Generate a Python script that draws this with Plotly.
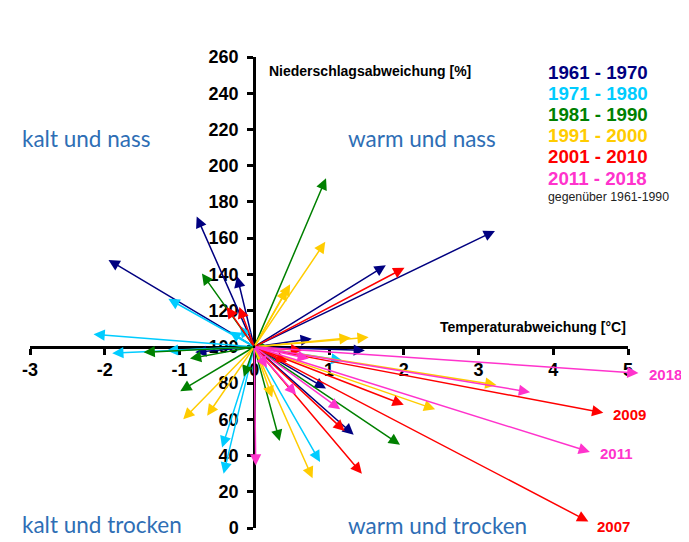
import plotly.graph_objects as go

# ---------------- data ----------------
decades = ["1961 - 1970", "1971 - 1980", "1981 - 1990", "1991 - 2000", "2001 - 2010", "2011 - 2018"]
colors = ["#000080", "#00CCFF", "#008000", "#FFCC00", "#FF0000", "#FF33CC"]

# temperature deviation [°C] (x) and precipitation [%] (y) of the arrow tips
navy_x = [3.22, 1.76, -1.95, -0.77, -0.23, 0.77, 1.48, -0.79, 0.96, 1.33]
navy_y = [164, 145, 148, 172, 139, 104.5, 98, 97, 77, 51.5]

cyan_x = [-2.15, -1.90, -1.17, -1.15, -0.33, -0.19, 1.18, -0.43, -0.41, 0.88]
cyan_y = [107, 96.5, 98, 126.5, 108.5, 111.5, 92.5, 44.5, 30, 36.5]

green_x = [0.96, -0.70, -1.48, -0.86, -0.99, -0.14, 0.34, 0.22, 1.95]
green_y = [193, 140.5, 97, 93.5, 75.5, 83.5, 48, 99, 46]

yellow_x = [0.95, 0.44, 0.48, 1.29, 1.53, 3.24, 2.42, -0.95, -0.63, 0.24, 0.78]
yellow_y = [158, 132, 134.5, 105, 105.3, 79, 65.5, 60, 62, 72, 27.5]

red_x = [2.01, -0.37, -0.20, 0.64, 0.44, 2.00, 1.21, 1.44, 4.67, 4.47]
red_y = [143.6, 122, 122, 98, 91.6, 68, 53.5, 30, 63.6, 3.6]

pink_x = [5.14, 4.49, 3.69, 0.02, 0.56, 1.15, 0.73, 0.17]
pink_y = [85.5, 42, 75, 34.5, 73.5, 65.5, 93.5, 88.5]

series_x = [navy_x, cyan_x, green_x, yellow_x, red_x, pink_x]
series_y = [navy_y, cyan_y, green_y, yellow_y, red_y, pink_y]

origin = (0, 100)  # normal = 0 °C deviation, 100 % precipitation

x_ticks = [-3, -2, -1, 0, 1, 2, 3, 4, 5]
y_ticks = list(range(0, 261, 20))

# labelled extreme years: (label, decade index)
year_labels = [("2018", 5), ("2009", 4), ("2011", 5), ("2007", 4)]

# ---------------- figure ----------------
W, H = 689, 542
OFF = 8  # page offset of the figure inside the browser window
# target plot-area edges in window pixels
PX_L, PX_R, PX_T, PX_B = 30, 628, 56.7, 533.3
L = PX_L - OFF
R = W - (PX_R - OFF)
T = PX_T - OFF
B = H - (PX_B - OFF)
FONT = "Liberation Sans, Arial, sans-serif"
QFONT = "Lato, Open Sans, sans-serif"

X_RANGE = [-3, 5]
Y_RANGE = [0, 260]

def px(xp):
    return (xp - PX_L) / (PX_R - PX_L)

def py(yp):
    return (PX_B - yp) / (PX_B - PX_T)

fig = go.Figure()

annotations = []
for name, col, xs, ys in zip(decades, colors, series_x, series_y):
    fig.add_trace(go.Scatter(x=xs, y=ys, mode="markers", name=name,
                             marker=dict(color=col, size=1, opacity=0),
                             showlegend=False, hoverinfo="skip"))
    for xv, yv in zip(xs, ys):
        annotations.append(dict(
            x=xv, y=yv, xref="x", yref="y",
            ax=origin[0], ay=origin[1], axref="x", ayref="y",
            text="", showarrow=True, arrowhead=2, arrowsize=1.5,
            arrowwidth=1.5, arrowcolor=col, standoff=0, startstandoff=0))

# legend as coloured text
legend_y_px = [72, 93.5, 115, 136.5, 157.5, 180]
for name, col, yp in zip(decades, colors, legend_y_px):
    annotations.append(dict(x=px(546), y=py(yp), xref="paper", yref="paper",
                            text=name, showarrow=False, xanchor="left", yanchor="middle",
                            font=dict(family=FONT, size=18.7, color=col, weight="bold")))
annotations.append(dict(x=px(546), y=py(198.5), xref="paper", yref="paper",
                        text="gegenüber 1961-1990", showarrow=False,
                        xanchor="left", yanchor="middle",
                        font=dict(family=FONT, size=12.3, color="#222222")))

# axis titles
annotations.append(dict(x=px(267), y=py(70.5), xref="paper", yref="paper",
                        text="Niederschlagsabweichung [%]", showarrow=False,
                        xanchor="left", yanchor="middle",
                        font=dict(family=FONT, size=14, color="black", weight="bold")))
annotations.append(dict(x=px(628), y=py(329.5), xref="paper", yref="paper",
                        text="Temperaturabweichung [°C]", showarrow=False,
                        xanchor="right", yanchor="middle",
                        font=dict(family=FONT, size=14, color="black", weight="bold")))

# quadrant labels
QCOL = "#2E6EB5"
for txt, xp, yp in [("kalt und nass", 20, 139.5), ("warm und nass", 346, 139.5),
                    ("kalt und trocken", 20, 530), ("warm und trocken", 346, 531)]:
    annotations.append(dict(x=px(xp), y=py(yp), xref="paper", yref="paper",
                            text=txt, showarrow=False, xanchor="left", yanchor="middle",
                            font=dict(family=QFONT, size=22.5, color=QCOL)))

# year labels near the tips
year_pos = {"2018": (647, 377.5), "2009": (611, 418), "2011": (598, 458), "2007": (595, 531.5)}
for lab, di in year_labels:
    xp, yp = year_pos[lab]
    annotations.append(dict(x=px(xp), y=py(yp), xref="paper", yref="paper",
                            text=lab, showarrow=False, xanchor="left", yanchor="middle",
                            font=dict(family=FONT, size=15, color=colors[di], weight="bold")))

fig.update_layout(
    width=W, height=H,
    margin=dict(l=L, r=R, t=T, b=B, pad=0),
    paper_bgcolor="white", plot_bgcolor="white",
    showlegend=False,
    annotations=annotations,
    xaxis=dict(range=X_RANGE, tickvals=x_ticks, ticktext=[str(v) for v in x_ticks],
               anchor="free", position=(origin[1] - Y_RANGE[0]) / (Y_RANGE[1] - Y_RANGE[0]),
               showline=True, linecolor="black", linewidth=3,
               ticks="outside", ticklen=6, tickwidth=2.5, tickcolor="black",
               showgrid=False, zeroline=False,
               tickfont=dict(family=FONT, size=18, color="black", weight="bold")),
    yaxis=dict(range=Y_RANGE, tickvals=y_ticks,
               anchor="free", position=(origin[0] - X_RANGE[0]) / (X_RANGE[1] - X_RANGE[0]),
               showline=True, linecolor="black", linewidth=3,
               ticks="outside", ticklen=6, tickwidth=2.5, tickcolor="black",
               ticklabelstandoff=5,
               showgrid=False, zeroline=False,
               tickfont=dict(family=FONT, size=18, color="black", weight="bold")),
)

fig.write_html("out.html")
